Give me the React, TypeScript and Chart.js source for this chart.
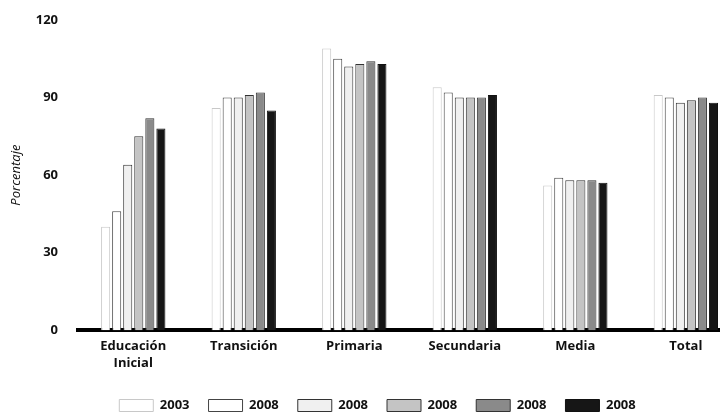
import React, { useEffect, useRef } from "react";
import { Chart, registerables } from "chart.js";

Chart.register(...registerables);

const categories: (string | string[])[] = [["Educación", "Inicial"], "Transición", "Primaria", "Secundaria", "Media", "Total"];
const seriesLabels = ["2003", "2008", "2008", "2008", "2008", "2008"];
const serie1 = [40, 86, 109, 94, 56, 91];
const serie2 = [46, 90, 105, 92, 59, 90];
const serie3 = [64, 90, 102, 90, 58, 88];
const serie4 = [75, 91, 103, 90, 58, 89];
const serie5 = [82, 92, 104, 90, 58, 90];
const serie6 = [78, 85, 103, 91, 57, 88];
const yTicks = [0, 30, 60, 90, 120];

const fills = ["#ffffff", "#ffffff", "#f0f0f0", "#c4c4c4", "#8a8a8a", "#161616"];
const borders = ["#c8c8c8", "#444444", "#333333", "#333333", "#333333", "#111111"];

const legendShift = {
  id: "legendShift",
  afterLayout(chart: any) {
    if (chart.legend) {
      chart.legend.left += 18;
      chart.legend.right += 18;
    }
  },
};

export default function App() {
  const ref = useRef<HTMLCanvasElement>(null);
  useEffect(() => {
    if (!ref.current) return;
    const all = [serie1, serie2, serie3, serie4, serie5, serie6];
    const font = "'Open Sans', 'DejaVu Sans', sans-serif";
    const chart = new Chart(ref.current, {
      type: "bar",
      plugins: [legendShift],
      data: {
        datasets: all.map((vals, k) => ({
          label: seriesLabels[k],
          data: vals.map((v, i) => ({ x: i, y: v })),
          backgroundColor: fills[k],
          borderColor: borders[k],
          borderWidth: 1,
          categoryPercentage: 0.6,
          barPercentage: 0.82,
          clip: false as any,
        })),
      },
      options: {
        animation: false,
        responsive: false,
        layout: { padding: { top: 20, right: 8, left: 0, bottom: -8 } },
        plugins: {
          tooltip: { enabled: false },
          legend: {
            position: "bottom",
            labels: {
              boxWidth: 34,
              boxHeight: 12,
              padding: 19,
              color: "#111",
              font: { family: font, size: 13, weight: "bold" },
            },
          },
        },
        scales: {
          x: {
            type: "linear",
            offset: false,
            min: -0.5,
            max: 5.3,
            afterBuildTicks: (s: any) => {
              s.ticks = categories.map((_, i) => ({ value: i }));
            },
            grid: { display: false, drawTicks: false, offset: false },
            border: { display: true, color: "#000", width: 4 },
            ticks: {
              autoSkip: false,
              maxRotation: 0,
              padding: 8,
              color: "#111",
              font: { family: font, size: 13, weight: "bold", lineHeight: 1.3 },
              callback: (v: any) => categories[v as number] as any,
            },
          },
          y: {
            min: 0,
            max: 120,
            afterBuildTicks: (s: any) => {
              s.ticks = yTicks.map((v) => ({ value: v }));
            },
            afterFit: (s: any) => {
              s.width = 78;
              s.paddingTop = 0;
              s.paddingBottom = 0;
            },
            grid: { display: false, drawTicks: false },
            border: { display: false },
            title: {
              display: true,
              text: "Porcentaje",
              color: "#111",
              padding: { top: 8, bottom: 0 },
              font: { family: font, size: 13, style: "italic" },
            },
            ticks: {
              padding: 20,
              color: "#111",
              font: { family: font, size: 13, weight: "bold" },
            },
          },
        },
      },
    });
    return () => chart.destroy();
  }, []);
  return (
    <div style={{ position: "fixed", left: 0, top: 0, width: 727, height: 414, background: "#fff" }}>
      <canvas ref={ref} width={727} height={414} style={{ display: "block" }} />
    </div>
  );
}
